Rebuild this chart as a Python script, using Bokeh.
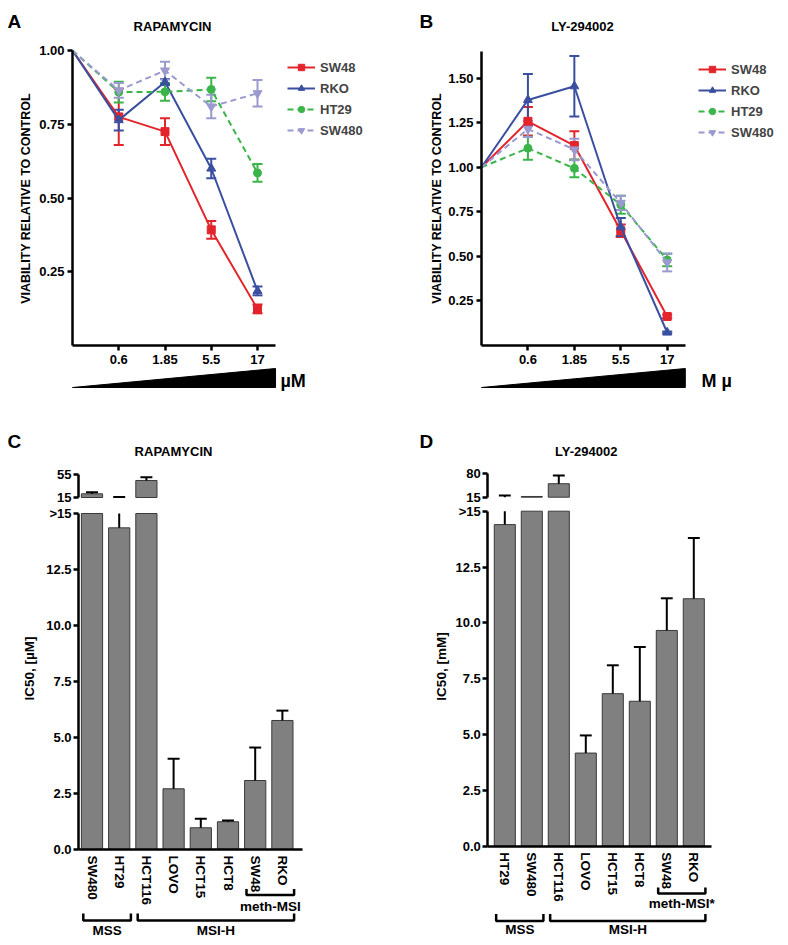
import math
from bokeh.plotting import figure
from bokeh.layouts import row, column
from bokeh.models import (Range1d, LinearAxis, FixedTicker, NumeralTickFormatter,
                          Legend, LegendItem, ColumnDataSource, Whisker, TeeHead)
from bokeh.core.properties import value
from bokeh.embed import file_html
from bokeh.resources import INLINE

FONT = "Liberation Sans"

# ---------------- data ----------------
conc_labels = ["0.6", "1.85", "5.5", "17"]
cell_lines = ["SW48", "RKO", "HT29", "SW480"]

rapa_sw48 = [1.00, 0.775, 0.725, 0.392, 0.124]
rapa_sw48_err = [0.0, 0.095, 0.045, 0.030, 0.015]
rapa_rko = [1.00, 0.764, 0.893, 0.600, 0.185]
rapa_rko_err = [0.0, 0.035, 0.010, 0.033, 0.015]
rapa_ht29 = [1.00, 0.859, 0.860, 0.868, 0.585]
rapa_ht29_err = [0.0, 0.035, 0.030, 0.040, 0.030]
rapa_sw480 = [1.00, 0.865, 0.932, 0.810, 0.855]
rapa_sw480_err = [0.0, 0.025, 0.030, 0.040, 0.045]

ly_sw48 = [1.00, 1.258, 1.122, 0.644, 0.163]
ly_sw48_err = [0.0, 0.080, 0.080, 0.035, 0.010]
ly_rko = [1.00, 1.378, 1.455, 0.665, 0.073]
ly_rko_err = [0.0, 0.145, 0.170, 0.050, 0.005]
ly_ht29 = [1.00, 1.107, 0.994, 0.790, 0.480]
ly_ht29_err = [0.0, 0.065, 0.050, 0.050, 0.035]
ly_sw480 = [1.00, 1.215, 1.100, 0.800, 0.466]
ly_sw480_err = [0.0, 0.045, 0.060, 0.040, 0.050]

ic50_rapa_lines = ["SW480", "HT29", "HCT116", "LOVO", "HCT15", "HCT8", "SW48", "RKO"]
ic50_rapa = [21.4, 14.36, 44.6, 2.71, 0.97, 1.24, 3.08, 5.76]
ic50_rapa_err = [2.8, 1.6, 5.7, 1.34, 0.40, 0.06, 1.47, 0.44]

ic50_ly_lines = ["HT29", "SW480", "HCT116", "LOVO", "HCT15", "HCT8", "SW48", "RKO"]
ic50_ly = [14.4, 17.0, 52.5, 4.17, 6.83, 6.49, 9.66, 11.08]
ic50_ly_err = [5.3, 0.0, 23.0, 0.79, 1.27, 2.43, 1.44, 2.72]

groups = [("MSS", 0, 1), ("MSI-H", 2, 7)]
subgroup = (6, 7)

# ---------------- styling ----------------
colors = {"SW48": "#e3242b", "RKO": "#3a4fa0", "HT29": "#3bb54a", "SW480": "#9b9ad0"}
markers = {"SW48": "square", "RKO": "triangle", "HT29": "circle", "SW480": "inverted_triangle"}
dashes = {"SW48": "solid", "RKO": "solid", "HT29": "6 4", "SW480": "6 4"}

W, HT, HB = 394, 420, 525


def lin(v0, p0, v1, p1):
    k = (v1 - v0) / (p1 - p0)
    return lambda p: v0 + (p - p0) * k


def base_fig(h, fx, fy):
    p = figure(width=W, height=h, x_range=Range1d(fx(0), fx(W)),
               y_range=Range1d(fy(h), fy(0)), x_axis_location=None,
               y_axis_location=None, min_border=0, toolbar_location=None,
               output_backend="svg", outline_line_color=None,
               background_fill_color="white", border_fill_color="white")
    p.xgrid.visible = False
    p.ygrid.visible = False
    return p


def style_axis(ax, fs="13px"):
    ax.axis_line_width = 2.5
    ax.axis_line_color = "black"
    ax.major_tick_line_width = 2.5
    ax.major_tick_line_color = "black"
    ax.major_tick_out = 5
    ax.major_tick_in = 0
    ax.minor_tick_out = 0
    ax.minor_tick_in = 0
    ax.major_label_text_font = FONT
    ax.major_label_text_font_style = "bold"
    ax.major_label_text_font_size = fs
    ax.major_label_text_color = "black"


def txt(p, x, y, s, size, align="center", angle=0.0, baseline="middle"):
    p.text(x=[x], y=[y], text=[s], text_font=value(FONT), text_font_style="bold",
           text_font_size=size, text_align=align, text_baseline=baseline,
           text_color="black", angle=angle)


def line_panel(letter, title, series, errs, fx, fy, ymax, yticks, unit, cfg):
    p = base_fig(HT, fx, fy)
    xend = 4.39
    yax = LinearAxis(fixed_location=0, bounds=(0, ymax),
                     ticker=FixedTicker(ticks=yticks),
                     formatter=NumeralTickFormatter(format="0.00"))
    style_axis(yax)
    yax.major_label_standoff = 3
    p.add_layout(yax, "left")
    xax = LinearAxis(fixed_location=0, bounds=(0, xend),
                     ticker=FixedTicker(ticks=[1, 2, 3, 4]),
                     major_label_overrides={i + 1: s for i, s in enumerate(conc_labels)})
    style_axis(xax)
    xax.major_label_standoff = 4
    p.add_layout(xax, "below")

    xs = [0, 1, 2, 3, 4]
    items = []
    for name in cell_lines:
        vals, er = series[name], errs[name]
        c = colors[name]
        ln = p.line(xs, vals, line_color=c, line_width=2, line_dash=dashes[name])
        src = ColumnDataSource(dict(x=xs[1:], lo=[v - e for v, e in zip(vals[1:], er[1:])],
                                    hi=[v + e for v, e in zip(vals[1:], er[1:])]))
        wk = Whisker(source=src, base="x", lower="lo", upper="hi", line_color=c, line_width=2,
                     upper_head=TeeHead(size=10, line_color=c, line_width=2),
                     lower_head=TeeHead(size=10, line_color=c, line_width=2))
        p.add_layout(wk)
        sc = p.scatter(xs[1:], vals[1:], marker=markers[name],
                       size=9 if "triangle" in markers[name] else 8,
                       fill_color=c, line_color=c)
        items.append(LegendItem(label=name, renderers=[ln, sc]))
    leg = Legend(items=items, location=cfg["legend"], border_line_color=None,
                 background_fill_alpha=0, label_text_font=FONT, label_text_font_style="bold",
                 label_text_font_size="13px", glyph_width=28, glyph_height=16, label_height=16,
                 spacing=5, padding=3, label_standoff=5, margin=0)
    p.add_layout(leg)

    # concentration wedge
    p.patch([0, xend, xend], [fy(387), fy(387), fy(368)], color="black")
    txt(p, fx(cfg["unit_x"]), fy(380), unit, "18px", align="left")
    txt(p, fx(cfg["title_x"]), fy(26), title, "13px")
    txt(p, fx(cfg["letter_x"]), fy(21), letter, "19px", align="left", baseline="alphabetic")
    txt(p, fx(cfg["ylab_x"]), fy(198), "VIABILITY RELATIVE TO CONTROL", "12.5px",
        angle=math.pi / 2)
    return p


def bar_panel(letter, title, names, vals, errs, ylab, upmax, fx, fyl, fyu, cfg):
    p = base_fig(HB, fx, fyl)
    p.extra_y_ranges = {"up": Range1d(fyu(HB), fyu(0))}
    ax_x = fx(cfg["axis_px"])
    xend = fx(cfg["xend_px"])
    idx = list(range(len(names)))
    brk = 15.0

    yl = LinearAxis(fixed_location=ax_x, bounds=(0, brk),
                    ticker=FixedTicker(ticks=[0, 2.5, 5, 7.5, 10, 12.5, 15]),
                    formatter=NumeralTickFormatter(format="0.0"),
                    major_label_overrides={15: ">15"})
    style_axis(yl)
    yl.major_label_standoff = 2
    p.add_layout(yl, "left")
    yu = LinearAxis(y_range_name="up", fixed_location=ax_x, bounds=(brk, upmax),
                    ticker=FixedTicker(ticks=[brk, upmax]),
                    formatter=NumeralTickFormatter(format="0"))
    style_axis(yu)
    yu.major_label_standoff = 2
    p.add_layout(yu, "left")
    xa = LinearAxis(fixed_location=0, bounds=(ax_x, xend), ticker=FixedTicker(ticks=idx),
                    major_label_overrides={i: n for i, n in enumerate(names)},
                    major_label_orientation="vertical")
    style_axis(xa, "13.5px")
    xa.major_tick_out = 0
    xa.major_label_standoff = 6
    p.add_layout(xa, "below")

    bw = 0.78
    fill, edge = "#808080", "#3a3a3a"
    p.vbar(x=idx, bottom=0, top=[min(v, brk) for v in vals], width=bw,
           fill_color=fill, line_color=edge, line_width=1)
    up_i = [i for i in idx if vals[i] > brk]
    p.vbar(x=up_i, bottom=brk, top=[vals[i] for i in up_i], width=bw, fill_color=fill,
           line_color=edge, line_width=1, y_range_name="up")
    cap = 0.22
    for i in idx:
        v, e = vals[i], errs[i]
        if e <= 0:
            continue
        top = v + e
        if v < brk:
            p.segment(i, v, i, min(top, brk), line_color="black", line_width=2)
            if top <= brk:
                p.segment(i - cap, top, i + cap, top, line_color="black", line_width=2)
        if top > brk:
            p.segment(i, max(v, brk), i, top, line_color="black", line_width=2,
                      y_range_name="up")
            p.segment(i - cap, top, i + cap, top, line_color="black", line_width=2,
                      y_range_name="up")

    def bracket(a, b, yh, yt, label, ty):
        x0, x1 = a - 0.32, b + 0.43
        p.line([x0, x0, x1, x1], [fyl(yt), fyl(yh), fyl(yh), fyl(yt)],
               line_color="black", line_width=2.5)
        txt(p, (x0 + x1) / 2, fyl(ty), label, "13.5px")

    for lab, a, b in groups:
        bracket(a, b, cfg["grp_y"], cfg["grp_y"] - 7, lab, cfg["grp_ty"])
    bracket(subgroup[0], subgroup[1], cfg["sub_y"], cfg["sub_y"] - 6, cfg["sub_label"], cfg["sub_ty"])

    txt(p, fx(cfg["ylab_x"]), fyl(cfg["ylab_y"]), ylab, "13.5px", angle=math.pi / 2)
    txt(p, fx(cfg["title_x"]), fyl(31), title, "13px")
    txt(p, fx(cfg["letter_x"]), fyl(21), letter, "19px", align="left", baseline="alphabetic")
    return p


pa = line_panel("A", "RAPAMYCIN",
                {"SW48": rapa_sw48, "RKO": rapa_rko, "HT29": rapa_ht29, "SW480": rapa_sw480},
                {"SW48": rapa_sw48_err, "RKO": rapa_rko_err, "HT29": rapa_ht29_err, "SW480": rapa_sw480_err},
                lin(0, 72, 4, 257), lin(1.0, 50, 0.0, 345), 1.0, [0.25, 0.5, 0.75, 1.0], "\u00b5M",
                dict(legend=(287, 282), unit_x=280, title_x=172, letter_x=7, ylab_x=25))
pb = line_panel("B", "LY-294002",
                {"SW48": ly_sw48, "RKO": ly_rko, "HT29": ly_ht29, "SW480": ly_sw480},
                {"SW48": ly_sw48_err, "RKO": ly_rko_err, "HT29": ly_ht29_err, "SW480": ly_sw480_err},
                lin(0, 87, 4, 272.7), lin(1.5, 77.7, 0.0, 345), 1.65,
                [0.25, 0.5, 0.75, 1.0, 1.25, 1.5], "M \u00b5",
                dict(legend=(304, 280), unit_x=307, title_x=188, letter_x=25, ylab_x=42))

pc = bar_panel("C", "RAPAMYCIN", ic50_rapa_lines, ic50_rapa, ic50_rapa_err,
               "IC50, [\u00b5M]", 55, lin(0, 91.5, 1, 118.7), lin(0, 429, 15, 93),
               lin(15, 77, 55, 54),
               dict(axis_px=78, xend_px=302, grp_y=500, grp_ty=510, sub_y=474.5,
                    sub_ty=486, sub_label="meth-MSI", ylab_x=29, ylab_y=248,
                    title_x=173, letter_x=7))
pd_ = bar_panel("D", "LY-294002", ic50_ly_lines, ic50_ly, ic50_ly_err,
                "IC50, [mM]", 80, lin(0, 110.3, 1, 137.3), lin(0, 425.7, 15, 90.7),
                lin(15, 76.7, 80, 53.3),
                dict(axis_px=93.3, xend_px=317, grp_y=500.5, grp_ty=509, sub_y=473,
                     sub_ty=482.7, sub_label="meth-MSI*", ylab_x=47, ylab_y=246,
                     title_x=191.7, letter_x=25))

page = column(row(pa, pb), row(pc, pd_))
open("out.html", "w").write(file_html(page, INLINE))
